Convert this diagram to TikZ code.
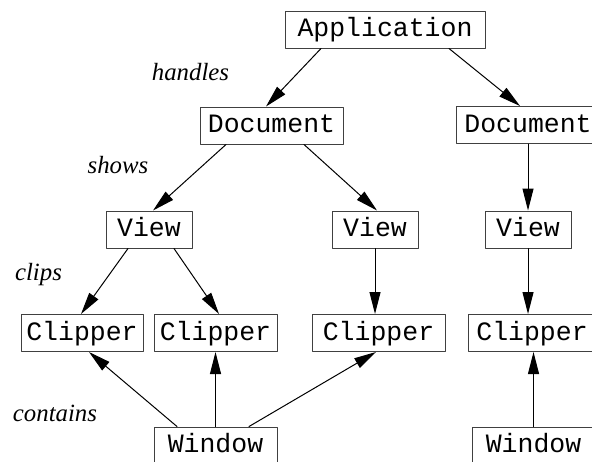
\documentclass[tikz,border=0pt]{standalone}
\usepackage{fontspec}
\setmainfont{Liberation Serif}
\setmonofont{Liberation Mono}
\usetikzlibrary{arrows.meta}
\tikzset{
    box/.style = {draw=black!75, line width=0.5pt, font=\ttfamily\fontsize{13.25}{15}\selectfont,
        minimum height=18.5pt, inner sep=0pt, text height=9.5pt, text depth=2.5pt},
    rel/.style = {font=\itshape\fontsize{12.4}{14}\selectfont, inner sep=0pt},
    link/.style = {line width=0.5pt, -{Triangle[length=11pt,width=5.5pt]}}
}

\begin{document}
\begin{tikzpicture}[x=0.5pt,y=-0.5pt,line cap=round,line join=round]
\clip (0,0) rectangle (592,461);

\node[box, minimum width=100pt] (app) at (385,29.5) {Application};
\node[box, minimum width=71.5pt] (docA) at (271.5,125.5) {Document};
\node[box, minimum width=71.5pt] (docB) at (528,125) {Document};
\node[box, minimum width=43pt] (viewA) at (149,229.5) {View};
\node[box, minimum width=43pt] (viewB) at (375,229.5) {View};
\node[box, minimum width=43pt] (viewC) at (528,229.5) {View};
\node[box, minimum width=61pt] (clipA) at (82,333) {Clipper};
\node[box, minimum width=61.5pt] (clipB) at (215.5,333) {Clipper};
\node[box, minimum width=66.5pt] (clipC) at (378.5,333) {Clipper};
\node[box, minimum width=64pt] (clipD) at (532,333) {Clipper};
\node[box, minimum width=61.5pt] (winA) at (215.5,445.5) {Window};
\node[box, minimum width=61.5pt] (winB) at (533.5,445.5) {Window};

\node[rel] (handles) at (190.5,72) {handles};
\node[rel] (shows) at (118,165) {shows};
\node[rel] (clips) at (38.5,275) {clips};
\node[rel] (contains) at (55,413) {contains};

\draw[link] ([xshift=-32pt]app.south) -- ([xshift=-2.75pt]docA.north);
\draw[link] ([xshift=32pt]app.south) -- ([xshift=-4pt]docB.north);
\draw[link] ([xshift=-22.75pt]docA.south) -- ([xshift=2pt]viewA.north);
\draw[link] ([xshift=16.25pt]docA.south) -- ([xshift=1pt]viewB.north);
\draw[link] (docB.south) -- (viewC.north);
\draw[link] ([xshift=-10.5pt]viewA.south) -- ([xshift=-0.5pt]clipA.north);
\draw[link] ([xshift=12.5pt]viewA.south) -- ([xshift=1.75pt]clipB.north);
\draw[link] (viewB.south) -- (viewB.south |- clipC.north);
\draw[link] (viewC.south) -- (viewC.south |- clipD.north);
\draw[link] ([xshift=-19.25pt]winA.north) -- ([xshift=3.5pt]clipA.south);
\draw[link] (winA.north) -- (winA.north |- clipB.south);
\draw[link] ([xshift=16.75pt]winA.north) -- ([xshift=-1.25pt]clipC.south);
\draw[link] (winB.north) -- (winB.north |- clipD.south);
\end{tikzpicture}
\end{document}
